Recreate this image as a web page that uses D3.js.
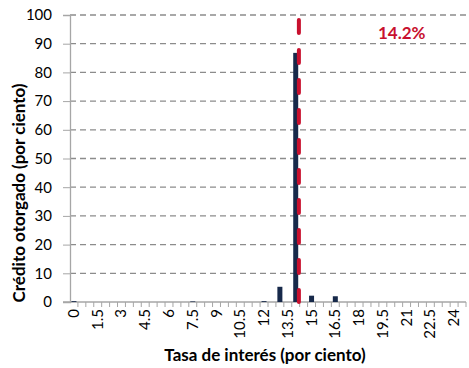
<!DOCTYPE html>
<html>
<head>
<meta charset="utf-8">
<script src="https://cdn.jsdelivr.net/npm/d3@7"></script>
<style>
  body { margin: 0; background: #fff; }
  text { font-family: Lato, "Open Sans", sans-serif; }
</style>
</head>
<body>
<div id="chart"></div>
<script>
// categories (interest rate, step 0.5)
var rates = [0, 0.5, 1, 1.5, 2, 2.5, 3, 3.5, 4, 4.5, 5, 5.5, 6, 6.5, 7, 7.5, 8, 8.5, 9, 9.5,
  10, 10.5, 11, 11.5, 12, 12.5, 13, 13.5, 14, 14.5, 15, 15.5, 16, 16.5, 17, 17.5, 18, 18.5, 19, 19.5,
  20, 20.5, 21, 21.5, 22, 22.5, 23, 23.5, 24, 24.5];

// share of credit granted (%)
var credit = [0.3, 0, 0, 0, 0, 0, 0, 0, 0, 0, 0, 0, 0, 0, 0, 0.2, 0, 0, 0, 0,
  0, 0, 0, 0, 0.3, 0, 5.3, 0, 86.8, 0, 2.2, 0, 0, 2.0, 0, 0, 0, 0, 0, 0,
  0, 0, 0, 0, 0, 0, 0, 0, 0, 0];

var xTickLabels = [0, 1.5, 3, 4.5, 6, 7.5, 9, 10.5, 12, 13.5, 15, 16.5, 18, 19.5, 21, 22.5, 24];
var yTicks = [0, 10, 20, 30, 40, 50, 60, 70, 80, 90, 100];
var avgRate = 14.2;

var svgWidth = 469;
var svgHeight = 368;
var margin = { top: 15, right: 3, bottom: 66, left: 70 };
var width = svgWidth - margin.left - margin.right;
var height = svgHeight - margin.top - margin.bottom;

var svg = d3.select("#chart").append("svg")
  .attr("width", svgWidth)
  .attr("height", svgHeight);

var chartGroup = svg.append("g")
  .attr("transform", `translate(${margin.left}, ${margin.top})`);

var x = d3.scaleBand()
  .domain(rates)
  .range([0, width])
  .paddingInner(0)
  .paddingOuter(0);

var y = d3.scaleLinear()
  .domain([0, 100])
  .range([height, 0]);

// continuous position for the average line
var xLin = d3.scaleLinear()
  .domain([rates[0], rates[rates.length - 1]])
  .range([x(rates[0]) + x.bandwidth() / 2, x(rates[rates.length - 1]) + x.bandwidth() / 2]);

// gridlines
chartGroup.selectAll(".grid")
  .data(yTicks.filter(d => d > 0))
  .enter()
  .append("line")
  .attr("x1", 0)
  .attr("x2", width)
  .attr("y1", d => y(d))
  .attr("y2", d => y(d))
  .attr("stroke", "#8c8c8c")
  .attr("stroke-width", 1.3)
  .attr("stroke-dasharray", "6,4");

// y axis
var leftAxis = d3.axisLeft(y).tickValues(yTicks).tickSize(7).tickPadding(11);
var yAxis = chartGroup.append("g").call(leftAxis);
yAxis.select(".domain").attr("stroke", "#a6a6a6").attr("stroke-width", 1.3);
yAxis.selectAll(".tick line").attr("stroke", "#a6a6a6");
yAxis.selectAll("text")
  .attr("font-size", "15px")
  .attr("font-family", "Lato, sans-serif")
  .attr("fill", "#000");

// x axis: small ticks at category boundaries
chartGroup.append("line")
  .attr("x1", -7).attr("x2", width)
  .attr("y1", height).attr("y2", height)
  .attr("stroke", "#a6a6a6")
  .attr("stroke-width", 1.3);

chartGroup.selectAll(".xtick")
  .data(rates)
  .enter()
  .append("line")
  .attr("x1", d => x(d) + x.bandwidth())
  .attr("x2", d => x(d) + x.bandwidth())
  .attr("y1", height)
  .attr("y2", height + 5)
  .attr("stroke", "#a6a6a6");

chartGroup.selectAll(".xlabel")
  .data(xTickLabels)
  .enter()
  .append("text")
  .attr("transform", d => `translate(${x(d) + x.bandwidth() / 2 + 5}, ${height + 7}) rotate(-90)`)
  .attr("text-anchor", "end")
  .attr("font-size", "15px")
  .attr("fill", "#000")
  .text(d => d);

// bars
chartGroup.selectAll(".bar")
  .data(rates.map((r, i) => ({ rate: r, value: credit[i] })))
  .enter()
  .append("rect")
  .attr("x", d => x(d.rate) + (x.bandwidth() - 5) / 2)
  .attr("width", 5)
  .attr("y", d => y(d.value))
  .attr("height", d => height - y(d.value))
  .attr("fill", "#17294a");

// average rate line
chartGroup.append("line")
  .attr("x1", xLin(avgRate))
  .attr("x2", xLin(avgRate))
  .attr("y1", 5)
  .attr("y2", height)
  .attr("stroke", "#c8102e")
  .attr("stroke-width", 4)
  .attr("stroke-linecap", "round")
  .attr("stroke-dasharray", "13,17");

chartGroup.append("text")
  .attr("x", 308)
  .attr("y", 24)
  .attr("font-size", "17px")
  .attr("font-weight", "bold")
  .attr("fill", "#c8102e")
  .text(avgRate + "%");

// axis titles
svg.append("text")
  .attr("x", margin.left + width / 2 - 3)
  .attr("y", 361)
  .attr("text-anchor", "middle")
  .attr("font-size", "17px")
  .attr("font-weight", "bold")
  .attr("fill", "#000")
  .text("Tasa de interés (por ciento)");

svg.append("text")
  .attr("transform", "translate(25, 193) rotate(-90)")
  .attr("text-anchor", "middle")
  .attr("font-size", "17px")
  .attr("font-weight", "bold")
  .attr("fill", "#000")
  .text("Crédito otorgado (por ciento)");
</script>
</body>
</html>
